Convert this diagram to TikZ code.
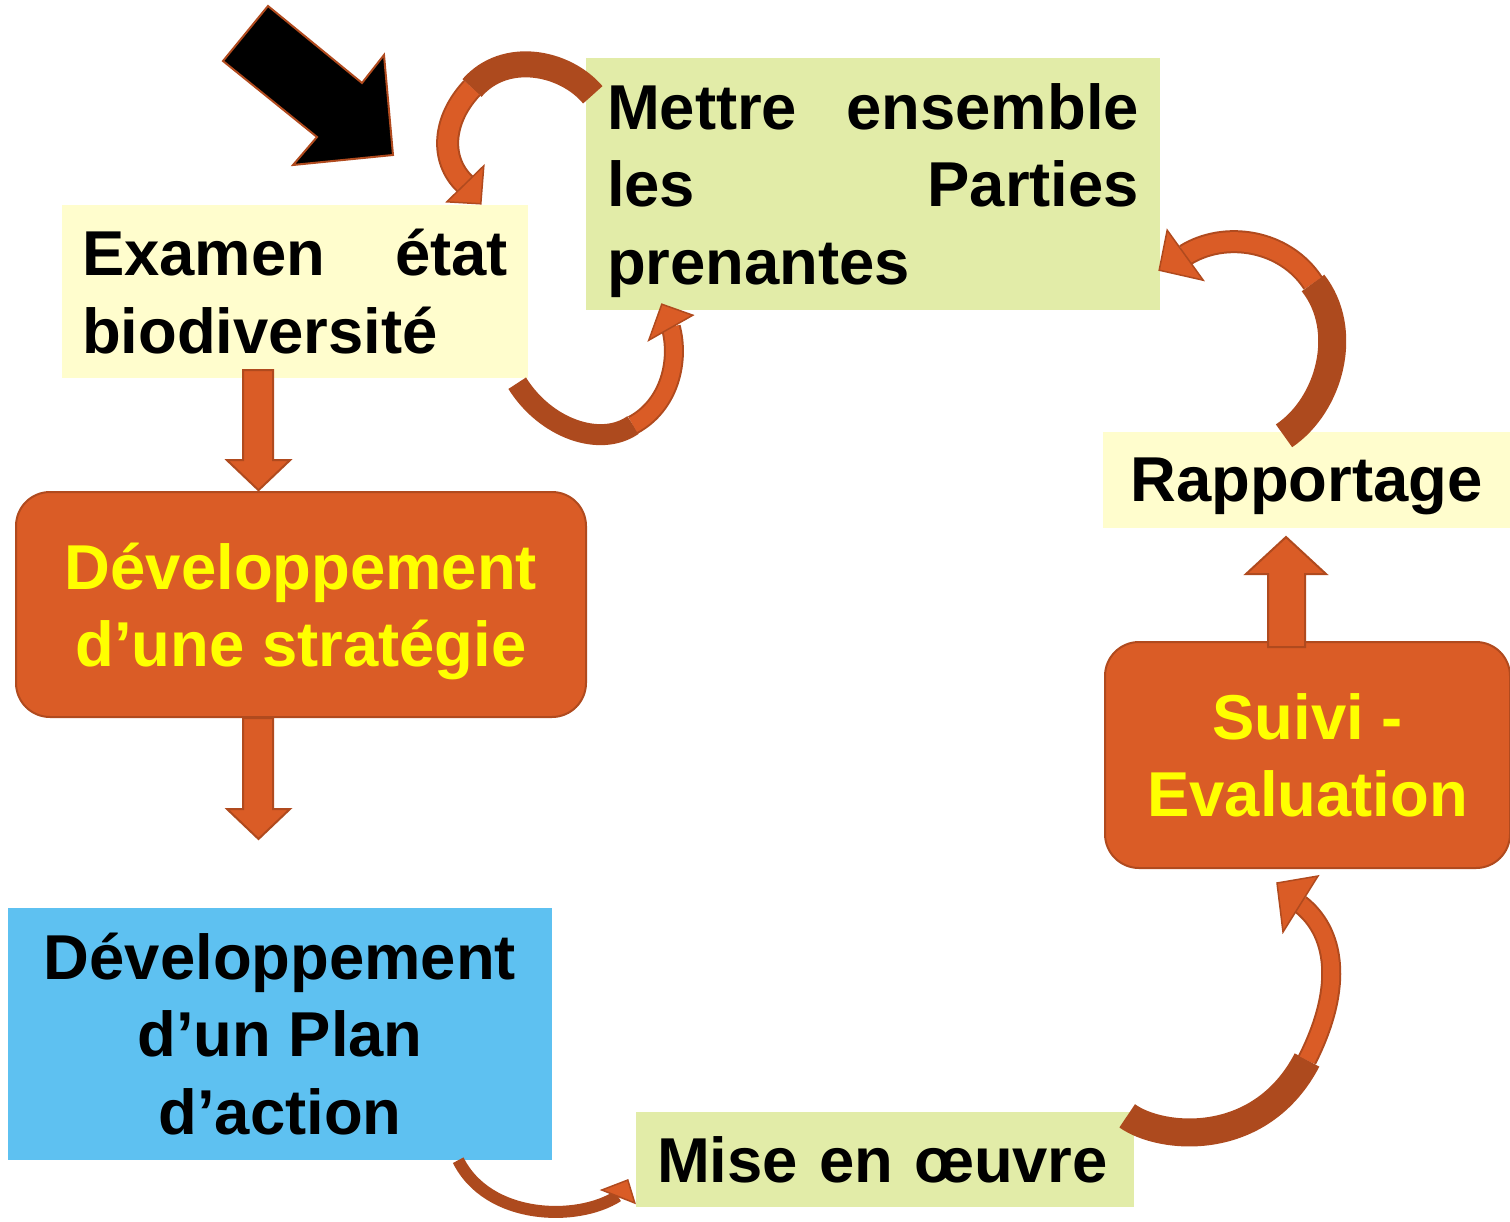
\documentclass[tikz,border=0pt]{standalone}
\usepackage{fontspec}
\setmainfont{Liberation Sans}
\usetikzlibrary{calc}

\definecolor{paleyellow}{HTML}{FFFDCD}
\definecolor{palegreen}{HTML}{E2ECA8}
\definecolor{boxorange}{HTML}{DA5C26}
\definecolor{edgeorange}{HTML}{B04A1E}
\definecolor{backorange}{HTML}{AD4A1E}
\definecolor{skyblue}{HTML}{5EC1F1}
\definecolor{sunyellow}{HTML}{FFFF00}
\newcommand{\boxfont}{\fontsize{63.4}{77.5}\selectfont\bfseries}

\begin{document}
\begin{tikzpicture}[x=1pt, y=-1pt,
    flatbox/.style={rectangle, inner xsep=21pt, inner ysep=0pt, font=\boxfont},
    roundbox/.style={rectangle, rounded corners=34pt, fill=boxorange, draw=edgeorange, line width=2pt,
        text=sunyellow, text depth=0pt, font=\boxfont, align=center},
    blockarrow/.style={fill=boxorange, draw=edgeorange, line width=2pt, line join=miter},
    backband/.style={draw=backorange, line width=#1},
    frontband/.style={draw=edgeorange, line width=2pt, double=boxorange, double distance=#1},
    curvehead/.style={fill=boxorange, draw=edgeorange, line width=1.5pt, line join=miter}]
    \useasboundingbox (0,0) rectangle (1510,1221);

    % Boxes
    \node[flatbox, fill=paleyellow, inner xsep=20pt, text width=426pt, minimum height=173pt, align=justify] (exam)
        at (295,291.5) {Examen état\linebreak biodiversité};
    \node[flatbox, fill=palegreen, text width=532pt, text depth=155pt, minimum height=252pt, align=justify] (parties)
        at (873,184) {Mettre ensemble\linebreak les Parties\linebreak prenantes};
    \node[roundbox, minimum width=570pt, minimum height=225pt] (strat) at (301,604.5)
        {Développement\\d’une stratégie};
    \node[flatbox, fill=skyblue, minimum width=544pt, minimum height=252pt, align=center] (plan) at (280,1034)
        {Développement\\d’un Plan\\d’action};
    \node[flatbox, fill=palegreen, text width=456pt, minimum height=95pt, align=left] (mise) at (885,1159.5)
        {Mise en œuvre};
    \node[roundbox, minimum width=405pt, minimum height=226pt] (suivi) at (1307.5,755)
        {Suivi -\\Evaluation};
    \node[flatbox, fill=paleyellow, text depth=0pt, minimum width=407pt, minimum height=96pt] (rapp) at (1306.5,480)
        {Rapportage};

    % Entry arrow
    \draw[fill=black, draw=edgeorange, line width=2pt, line join=miter]
        (268,6) -- (223,61) -- (317,137) -- (293,165) -- (393,155) -- (384,55) -- (362,83) -- cycle;

    % Straight arrows
    \draw[blockarrow] ($(exam.south)+(-52,-8)$) -- ++(30,0) -- ++(0,90) -- ++(17,0)
        -- ++(-31.5,30) -- ++(-31.5,-30) -- ++(16,0) -- cycle; % down to strategy
    \draw[blockarrow] ($(strat.south)+(-58,0)$) -- ++(30,0) -- ++(0,91) -- ++(17,0)
        -- ++(-31.5,30) -- ++(-31.5,-30) -- ++(16,0) -- cycle; % down to plan
    \draw[blockarrow] ($(suivi.north)+(-39.5,6)$) -- ++(0,-73) -- ++(-22,0) -- ++(40,-37)
        -- ++(40,37) -- ++(-21,0) -- ++(0,73) -- cycle; % up to reporting

    % Curved arrow: parties -> exam
    \coordinate (tA) at ($(parties.north west)+(7,37)$);
    \coordinate (mA) at (472,88);
    \coordinate (hA) at ($(exam.north west)+(403,-21)$);
    \draw[backband=26pt] (tA) .. controls +(-28,-33) and +(33,-38) .. (mA);
    \draw[frontband=19pt] (mA) .. controls +(-30,32) and +(-25,-24) .. (hA);
    \draw[curvehead] (hA) ++(19,-18) -- ++(-3,38) -- ++(-34,-2) -- cycle;

    % Curved arrow: exam -> parties
    \coordinate (tB) at ($(exam.south east)+(-11,5)$);
    \coordinate (mB) at (633,425);
    \coordinate (hB) at ($(parties.south west)+(85,17)$);
    \draw[backband=21pt] (tB) .. controls +(28,45) and +(-33,23) .. (mB);
    \draw[frontband=16pt] (mB) .. controls +(37,-20) and +(9,33) .. (hB);
    \draw[curvehead] (hB) ++(22,-12) -- ++(-31,-11) -- ++(-13,36) -- cycle;

    % Curved arrow: rapp -> parties
    \coordinate (tC) at ($(rapp.north)+(-22.5,4)$);
    \coordinate (mC) at (1313,283);
    \coordinate (hC) at ($(parties.south east)+(25,-55)$);
    \draw[backband=28pt] (tC) .. controls +(46,-31) and +(37,47) .. (mC);
    \draw[frontband=19pt] (mC) .. controls +(-28,-43) and +(40,-25) .. (hC);
    \draw[curvehead] (hC) ++(-18,-25) -- ++(-8,40) -- ++(44,10) -- cycle;

    % Curved arrow: mise -> suivi
    \coordinate (tD) at ($(mise.north east)+(-7,4)$);
    \coordinate (mD) at (1307,1060);
    \coordinate (hD) at ($(suivi.south)+(-7.5,35)$);
    \draw[backband=28pt] (tD) .. controls +(33,24) and +(-47,90) .. (mD);
    \draw[frontband=16pt] (mD) .. controls +(38,-75) and +(35,27) .. (hD);
    \draw[curvehead] (hD) ++(18,-28) -- ++(-41,7) -- ++(6,49) -- cycle;

    % Curved arrow: plan -> mise
    \coordinate (tE) at ($(plan.south east)+(-94,0)$);
    \coordinate (hE) at ($(mise.west)+(-18,36.5)$);
    \draw[backband=12pt] (tE) .. controls +(30,60) and +(-40,26) .. (hE);
    \draw[curvehead] (hE) ++(-16,-6) -- ++(26,-10) -- ++(7,23) -- cycle;
\end{tikzpicture}
\end{document}
